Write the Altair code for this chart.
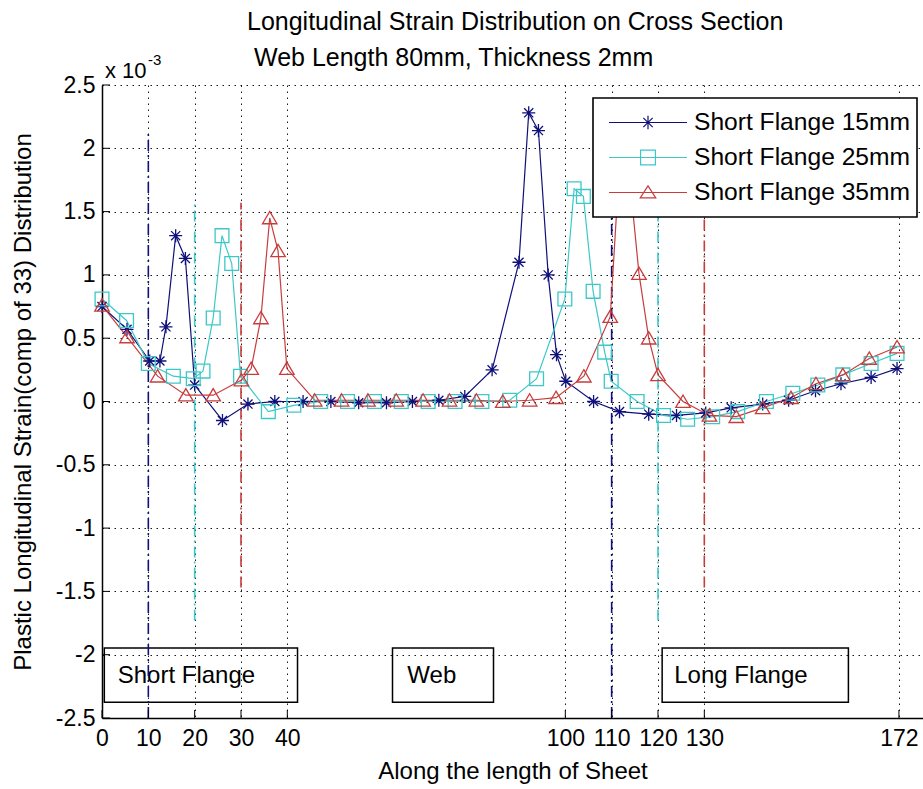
import altair as alt
import pandas as pd

FONT = "Liberation Sans"

S15, S25, S35 = "Short Flange 15mm", "Short Flange 25mm", "Short Flange 35mm"
SERIES = [S15, S25, S35]
COLORS = ["#10107a", "#3cc8c8", "#c83c3c"]

# ---- data (strain in units of 1e-3) ----
x15 = [0, 5.4, 10.3, 12.5, 13.8, 15.9, 18.0, 20.0, 26.0, 31.5, 37.3, 43.4, 49.4, 55.4, 61.4, 67.0,
       72.7, 78.3, 84.2, 90.0, 92.1, 94.2, 96.3, 98.1, 100.1, 106.1, 111.7, 118.0, 124.0, 130.3,
       135.8, 142.6, 148.2, 154.0, 159.5, 166.0, 171.6]
y15 = [0.75, 0.57, 0.32, 0.32, 0.59, 1.31, 1.13, 0.13, -0.15, -0.02, 0.0, 0.0, 0.0, -0.01, -0.01, 0.0,
       0.01, 0.04, 0.25, 1.10, 2.28, 2.14, 1.00, 0.37, 0.16, 0.0, -0.08, -0.10, -0.11, -0.09,
       -0.05, -0.02, 0.01, 0.085, 0.14, 0.19, 0.26]

x25 = [0, 5.3, 10.0, 15.4, 19.7, 21.8, 24.0, 25.9, 28.0, 29.9, 35.9, 41.4, 47.2, 53.0, 58.8, 64.6,
       70.4, 76.2, 82.0, 88.0, 93.8, 99.9, 101.9, 103.9, 106.0, 108.5, 109.9, 115.5, 121.2, 126.4,
       131.8, 137.2, 143.4, 149.1, 154.5, 159.9, 166.0, 171.6]
y25 = [0.81, 0.64, 0.30, 0.20, 0.18, 0.24, 0.66, 1.31, 1.09, 0.20, -0.08, -0.03, 0.0, 0.0, 0.0, 0.0,
       0.0, 0.0, 0.0, 0.01, 0.18, 0.81, 1.68, 1.62, 0.87, 0.39, 0.16, 0.0, -0.11, -0.14,
       -0.12, -0.08, 0.0, 0.065, 0.13, 0.21, 0.30, 0.38]

x35 = [0, 5.4, 12.0, 18.1, 24.0, 30.1, 32.2, 34.3, 36.2, 38.0, 39.9, 45.9, 51.7, 57.4, 63.5, 69.3,
       75.0, 80.8, 86.5, 92.3, 98.0, 104.0, 109.7, 111.9, 114.0, 115.9, 118.0, 120.0, 125.4, 131.1,
       136.9, 142.6, 148.7, 154.1, 159.9, 165.6, 171.6]
y35 = [0.76, 0.51, 0.20, 0.05, 0.05, 0.17, 0.26, 0.66, 1.45, 1.19, 0.26, 0.01, 0.01, 0.01, 0.01, 0.01,
       0.01, 0.01, 0.0, 0.01, 0.03, 0.20, 0.67, 2.0, 1.72, 1.01, 0.50, 0.21, 0.0, -0.11,
       -0.12, -0.05, 0.03, 0.14, 0.21, 0.34, 0.43]

# region boundary lines (dash-dot)
vline_x = [10, 20, 30, 110, 120, 130]
vline_lo = [-2.5, -1.73, -1.47, -2.5, -1.73, -1.47]
vline_hi = [2.14, 1.59, 1.57, 2.14, 1.59, 1.57]
vline_series = [S15, S25, S35, S15, S25, S35]

# region label boxes
box_labels = ["Short Flange", "Web", "Long Flange"]
box_x1 = [0.5, 62.7, 120.9]
box_x2 = [42.2, 84.5, 161.1]
box_y1 = [-2.375, -2.375, -2.375]
box_y2 = [-1.947, -1.947, -1.947]
label_x = [3.4, 65.9, 123.5]
label_y = [-2.165, -2.165, -2.165]

x_ticks = [0, 10, 20, 30, 40, 100, 110, 120, 130, 172]
y_ticks = [-2.5, -2, -1.5, -1, -0.5, 0, 0.5, 1, 1.5, 2, 2.5]

title_lines = ["Longitudinal Strain Distribution on Cross Section", "Web Length 80mm, Thickness 2mm"]

# ---- tables ----
df = pd.concat([
    pd.DataFrame({"x": x15, "y": y15, "series": S15}),
    pd.DataFrame({"x": x25, "y": y25, "series": S25}),
    pd.DataFrame({"x": x35, "y": y35, "series": S35}),
], ignore_index=True)
df["order"] = range(len(df))

vdf = pd.DataFrame({"x": vline_x, "y": vline_lo, "y2": vline_hi, "series": vline_series})
bdf = pd.DataFrame({"x": box_x1, "x2": box_x2, "y": box_y1, "y2": box_y2})
ldf = pd.DataFrame({"x": label_x, "y": label_y, "label": box_labels})
xtdf = pd.DataFrame({"x": x_ticks})
ytdf = pd.DataFrame({"y": y_ticks})

W, H = 821, 633

xscale = alt.Scale(domain=[0, 177.2], nice=False, zero=False)
yscale = alt.Scale(domain=[-2.5, 2.5], nice=False, zero=False)

xaxis = alt.Axis(values=x_ticks, title="Along the length of Sheet", labelExpr="toString(datum.value)",
                 grid=True, ticks=False, tickSize=0, labelPadding=9, titlePadding=9,
                 labelOverlap=False, labelFlush=False)
yaxis = alt.Axis(values=y_ticks, title="Plastic Longitudinal Strain(comp of 33) Distribution",
                 labelExpr="toString(datum.value)", grid=True, ticks=False, tickSize=0,
                 labelPadding=7, titlePadding=20, labelOverlap=False, labelFlush=False)

X = alt.X("x:Q", scale=xscale, axis=xaxis)
Y = alt.Y("y:Q", scale=yscale, axis=yaxis)


def color_enc(legend=None):
    return alt.Color("series:N", scale=alt.Scale(domain=SERIES, range=COLORS), legend=legend)


AST = "M-1,0L1,0M0,-1L0,1M-0.7,-0.7L0.7,0.7M-0.7,0.7L0.7,-0.7"
SQ = "M-1,-1L1,-1L1,1L-1,1Z"
TRI = "M0,-0.9L1,0.8L-1,0.8Z"

LEG_AST = "M-1,0L1,0M0,-0.17L0,0.17M-0.12,-0.12L0.12,0.12M-0.12,0.12L0.12,-0.12"
LEG_SQ = "M-1,0L1,0M-0.19,-0.19L0.19,-0.19L0.19,0.19L-0.19,0.19Z"
LEG_TRI = "M-1,0L1,0M0,-0.17L0.2,0.14L-0.2,0.14Z"

boxes = alt.Chart(bdf).mark_rect(fillOpacity=0, stroke="black", strokeWidth=1.5).encode(
    x=X, x2="x2:Q", y=Y, y2="y2:Q")

labels = alt.Chart(ldf).mark_text(align="left", baseline="middle", fontSize=24, color="black").encode(
    x=X, y=Y, text="label:N")

vlines = alt.Chart(vdf).mark_rule(strokeDash=[11, 4, 2, 4], strokeWidth=1.6).encode(
    x=X, y=Y, y2="y2:Q", color=color_enc())

lines = alt.Chart(df).mark_line(strokeWidth=1.2).encode(
    x=X, y=Y, color=color_enc(), detail="series:N", order="order:Q")

points = alt.Chart(df).mark_point(filled=False, strokeWidth=1.3, opacity=1).encode(
    x=X, y=Y, color=color_enc(),
    shape=alt.Shape("series:N", scale=alt.Scale(domain=SERIES, range=[AST, SQ, TRI]), legend=None),
    size=alt.Size("series:N", scale=alt.Scale(domain=SERIES, range=[170, 210, 230]), legend=None))

LEG = alt.Legend(title=None, orient="none", legendX=491, legendY=13, fillColor="white",
                 strokeColor="black", padding=7, symbolSize=6084, symbolStrokeWidth=1.2,
                 symbolOpacity=1, symbolOffset=8, labelOffset=6, labelFontSize=24.6, labelFont=FONT,
                 labelColor="black", clipHeight=35, rowPadding=0, labelLimit=400)

legend_layer = alt.Chart(df).mark_point(filled=False, opacity=0).encode(
    x=X, y=Y, color=color_enc(LEG),
    shape=alt.Shape("series:N", scale=alt.Scale(domain=SERIES, range=[LEG_AST, LEG_SQ, LEG_TRI]),
                    legend=LEG))

yticks = alt.Chart(ytdf).mark_rule(color="black", strokeWidth=1).encode(
    y=Y, x=alt.value(0), x2=alt.value(8))
xticks = alt.Chart(xtdf).mark_rule(color="black", strokeWidth=1).encode(
    x=X, y=alt.value(H), y2=alt.value(H - 8))

exp_txt = alt.Chart(pd.DataFrame({"t": ["x 10"]})).mark_text(
    align="left", baseline="middle", fontSize=22, color="black").encode(
    text="t:N", x=alt.value(3), y=alt.value(-14))
exp_sup = alt.Chart(pd.DataFrame({"t": ["-3"]})).mark_text(
    align="left", baseline="middle", fontSize=15, color="black").encode(
    text="t:N", x=alt.value(46), y=alt.value(-25))

title1 = alt.Chart(pd.DataFrame({"t": [title_lines[0]]})).mark_text(
    align="left", baseline="middle", fontSize=25, color="black").encode(
    text="t:N", x=alt.value(145), y=alt.value(-63))
title2 = alt.Chart(pd.DataFrame({"t": [title_lines[1]]})).mark_text(
    align="left", baseline="middle", fontSize=25, color="black").encode(
    text="t:N", x=alt.value(152), y=alt.value(-27))

chart = alt.layer(
    boxes, labels, vlines, lines, points, legend_layer, yticks, xticks, exp_txt, exp_sup, title1, title2
).resolve_scale(
    color="independent", shape="independent", size="independent"
).properties(
    width=W, height=H,
    autosize=alt.AutoSizeParams(type="none"),
    padding={"left": 102, "top": 85, "right": 0, "bottom": 71},
).configure(
    font=FONT, background="white"
).configure_view(
    stroke="transparent"
).configure_axis(
    labelFont=FONT, titleFont=FONT, labelFontSize=23, titleFontSize=24, titleFontWeight="normal",
    labelColor="black", titleColor="black", domainColor="black", domainWidth=1.5,
    gridColor="black", gridDash=[1.5, 4.5], gridWidth=1, gridOpacity=0.9
).configure_legend(
    strokeWidth=1.6
)

chart.save("out.html", embed_options={"renderer": "svg", "actions": False})
